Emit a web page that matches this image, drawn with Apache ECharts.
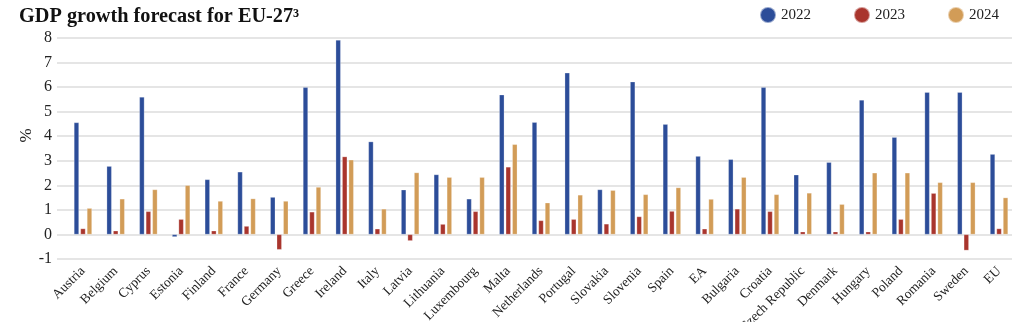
<!DOCTYPE html>
<html>
<head>
<meta charset="utf-8">
<script src="https://cdn.jsdelivr.net/npm/echarts@6/dist/echarts.min.js"></script>
<style>html,body{margin:0;padding:0;background:#fff}#c{width:1024px;height:322px}</style>
</head>
<body>
<div id="c"></div>
<script>
const categories = ["Austria","Belgium","Cyprus","Estonia","Finland","France","Germany","Greece","Ireland","Italy","Latvia","Lithuania","Luxembourg","Malta","Netherlands","Portugal","Slovakia","Slovenia","Spain","EA","Bulgaria","Croatia","Czech Republic","Denmark","Hungary","Poland","Romania","Sweden","EU"];
const gdp2022 = [4.56,2.78,5.6,-0.1,2.24,2.55,1.52,5.99,7.92,3.78,1.82,2.44,1.45,5.69,4.57,6.58,1.83,6.22,4.49,3.19,3.06,5.99,2.43,2.94,5.48,3.96,5.79,5.79,3.27];
const gdp2023 = [0.24,0.15,0.94,0.62,0.15,0.34,-0.62,0.92,3.17,0.23,-0.26,0.42,0.94,2.75,0.57,0.62,0.43,0.73,0.95,0.23,1.04,0.94,0.11,0.11,0.11,0.62,1.68,-0.65,0.24];
const gdp2024 = [1.07,1.45,1.83,2.0,1.36,1.46,1.36,1.93,3.04,1.04,2.52,2.33,2.33,3.67,1.29,1.61,1.80,1.63,1.91,1.44,2.33,1.63,1.69,1.23,2.51,2.51,2.12,2.12,1.5];
const yTicks = {min:-1, max:8, interval:1};
const seriesNames = ["2022","2023","2024"];
const colors = ["#2c4d99","#a9352d","#d29c57"];

const serif = "'Liberation Serif', 'DejaVu Serif', serif";
const chart = echarts.init(document.getElementById('c'), null, {renderer:'canvas'});
const values = [gdp2022, gdp2023, gdp2024];
chart.setOption({
  animation:false,
  backgroundColor:'#fff',
  title:{text:'GDP growth forecast for EU-27³', left:14, top:2,
    textStyle:{fontFamily:serif, fontWeight:'bold', fontSize:20.3, color:'#111'}},
  legend:{right:20, top:1, itemWidth:16, itemHeight:16, itemGap:42, icon:'circle',
    textStyle:{fontFamily:serif, fontSize:15, color:'#222'},
    data:seriesNames},
  grid:[
    {left:57, right:12, top:38, bottom:63, outerBoundsMode:'none', containLabel:false},
    {left:66.6, right:8.6, top:38, bottom:63, outerBoundsMode:'none', containLabel:false}
  ],
  xAxis:[
    {gridIndex:0, type:'category', data:categories, show:false},
    {gridIndex:1, type:'category', data:categories,
      axisLine:{show:false}, axisTick:{show:false},
      axisLabel:{rotate:45, interval:0, margin:10, fontFamily:serif, fontSize:13.5, color:'#222'}}
  ],
  yAxis:[
    {gridIndex:0, type:'value', min:yTicks.min, max:yTicks.max, interval:yTicks.interval,
      name:'%', nameLocation:'middle', nameRotate:90, nameGap:22, nameMoveOverlap:false,
      nameTextStyle:{fontFamily:serif, fontSize:17, color:'#222', padding:[0,0,0,26]},
      axisLine:{show:false}, axisTick:{show:false},
      axisLabel:{margin:5, fontFamily:serif, fontSize:16, color:'#222'},
      splitLine:{lineStyle:{color:'#dddddd', width:1.5}}},
    {gridIndex:1, type:'value', min:yTicks.min, max:yTicks.max, interval:yTicks.interval, show:false,
      splitLine:{show:false}}
  ],
  series: seriesNames.map((n,i)=>({
    name:n, type:'bar', xAxisIndex:1, yAxisIndex:1,
    data:values[i], barWidth:5, barGap:'30%',
    itemStyle:{color:colors[i], borderColor:'rgba(255,255,255,0.5)', borderWidth:0.5}
  }))
});
</script>
</body>
</html>
